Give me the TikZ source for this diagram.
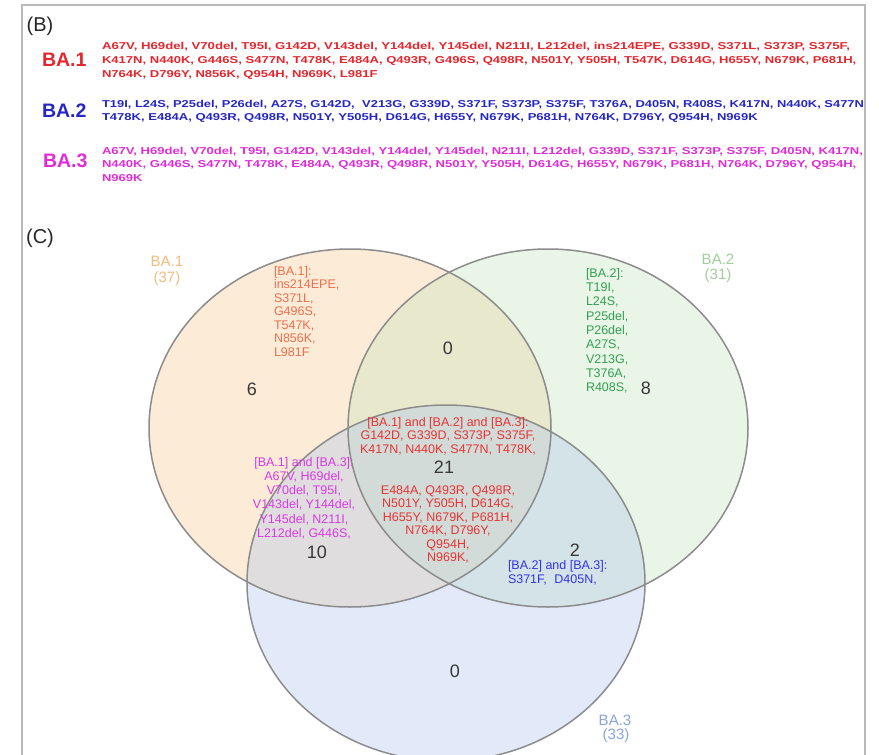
\documentclass[tikz,border=0pt]{standalone}
\usepackage{fontspec}
\setmainfont{Liberation Sans}
\definecolor{redB}{RGB}{228,38,45}
\definecolor{blueB}{RGB}{38,38,196}
\definecolor{magB}{RGB}{224,44,214}
\definecolor{lblO}{RGB}{243,188,128}
\definecolor{lblG}{RGB}{158,208,152}
\definecolor{lblB}{RGB}{138,164,220}
\definecolor{txtO}{RGB}{235,112,78}
\definecolor{txtG}{RGB}{52,158,84}
\definecolor{txtR}{RGB}{230,52,52}
\definecolor{txtM}{RGB}{214,58,226}
\definecolor{txtBl}{RGB}{52,52,226}
\definecolor{fillO}{RGB}{249,198,141}
\definecolor{fillG}{RGB}{192,229,186}
\definecolor{fillB}{RGB}{172,195,238}
\definecolor{edgec}{RGB}{140,140,140}
\definecolor{framec}{RGB}{185,185,185}
\definecolor{cntc}{RGB}{55,55,55}
\newcommand{\hs}[2][1.305]{\scalebox{#1}[1]{#2}}
\tikzset{
  every node/.style={inner sep=0pt, outer sep=0pt},
  bline/.style={anchor=base west, font=\fontsize{10}{12}\selectfont\bfseries},
  blabel/.style={anchor=base west, font=\fontsize{19.5}{22}\selectfont\bfseries},
  panel/.style={font=\fontsize{20}{22}\selectfont, text=black!85},
  vtxt/.style={font=\fontsize{12.5}{14}\selectfont},
  vlbl/.style={font=\fontsize{15}{17}\selectfont},
  cnt/.style={font=\fontsize{18}{20}\selectfont, text=cntc},
  ell/.style={draw=edgec, line width=1.5},
}
\begin{document}
\begin{tikzpicture}[x=1pt,y=-1pt]
\useasboundingbox (0,0) rectangle (879,755);
\fill[white] (0,0) rectangle (879,755);
\draw[framec, line width=1.6] (22,5) rectangle (865,775);

% ---------- panel B ----------
\node[panel] (pB) at (40,26) {(B)};
\node[blabel, text=redB] (lB1) at (42,66) {BA.1};
\node[blabel, text=blueB] (lB2) at (42,117) {BA.2};
\node[blabel, text=magB] (lB3) at (43,167) {BA.3};

\node[bline, text=redB] (b11) at (102,49.6) {\hs[1.318]{A67V, H69del, V70del, T95I, G142D, V143del, Y144del, Y145del, N211I, L212del, ins214EPE, G339D, S371L, S373P, S375F,}};
\node[bline, text=redB] (b12) at (102,63.6) {\hs{K417N, N440K, G446S, S477N, T478K, E484A, Q493R, G496S, Q498R, N501Y, Y505H, T547K, D614G, H655Y, N679K, P681H,}};
\node[bline, text=redB] (b13) at (102,77.6) {\hs{N764K, D796Y, N856K, Q954H, N969K, L981F}};

\node[bline, text=blueB] (b21) at (102,107.6) {\hs[1.292]{T19I, L24S, P25del, P26del, A27S, G142D,\hspace{3pt} V213G, G339D, S371F, S373P, S375F, T376A, D405N, R408S, K417N, N440K, S477N}};
\node[bline, text=blueB] (b22) at (102,120.6) {\hs{T478K, E484A, Q493R, Q498R, N501Y, Y505H, D614G, H655Y, N679K, P681H, N764K, D796Y, Q954H, N969K}};

\node[bline, text=magB] (b31) at (102,154.6) {\hs{A67V, H69del, V70del, T95I, G142D, V143del, Y144del, Y145del, N211I, L212del, G339D, S371F, S373P, S375F, D405N, K417N,}};
\node[bline, text=magB] (b32) at (102,167.6) {\hs{N440K, G446S, S477N, T478K, E484A, Q493R, Q498R, N501Y, Y505H, D614G, H655Y, N679K, P681H, N764K, D796Y, Q954H,}};
\node[bline, text=magB] (b33) at (102,181.6) {\hs{N969K}};

% ---------- panel C ----------
\node[panel] (pC) at (40,238) {(C)};

\fill[fillO, fill opacity=0.35] (350,428) ellipse [x radius=201, y radius=179];
\fill[fillG, fill opacity=0.35] (548,428) ellipse [x radius=200, y radius=179];
\fill[fillB, fill opacity=0.35] (446,583) ellipse [x radius=199, y radius=178];
\draw[ell] (350,428) ellipse [x radius=201, y radius=179];
\draw[ell] (548,428) ellipse [x radius=200, y radius=179];
\draw[ell] (446,583) ellipse [x radius=199, y radius=178];

\node[vlbl, text=lblO] (v1) at (167,261) {BA.1};
\node[vlbl, text=lblO] (v1n) at (167,279) {(37)};
\node[vlbl, text=lblG] (v2) at (718,259) {BA.2};
\node[vlbl, text=lblG] (v2n) at (718,276) {(31)};
\node[vlbl, text=lblB] (v3) at (615,720) {BA.3};
\node[vlbl, text=lblB] (v3n) at (616,736) {(33)};

% BA.1 only
\foreach \t [count=\i from 0] in {{[BA.1]:},{ins214EPE,},{S371L,},{G496S,},{T547K,},{N856K,},{L981F}}
  \node[vtxt, text=txtO, anchor=base west] (o\i) at (274,{275.3+\i*13.5}) {\t};
% BA.2 only
\foreach \t [count=\i from 0] in {{[BA.2]:},{T19I,},{L24S,},{P25del,},{P26del,},{A27S,},{V213G,},{T376A,},{R408S,}}
  \node[vtxt, text=txtG, anchor=base west] (g\i) at (586,{277.3+\i*14.3}) {\t};
% all three
\foreach \t [count=\i from 0] in {{[BA.1] and [BA.2] and [BA.3]:},{G142D, G339D, S373P, S375F,},{K417N, N440K, S477N, T478K,}}
  \node[vtxt, text=txtR, anchor=base] (r\i) at (448,{426.3+\i*13.5}) {\t};
\foreach \t [count=\i from 0] in {{E484A, Q493R, Q498R,},{N501Y, Y505H, D614G,},{H655Y, N679K, P681H,},{N764K, D796Y,},{Q954H,},{N969K,}}
  \node[vtxt, text=txtR, anchor=base] (s\i) at (448,{494.3+\i*13.5}) {\t};
% BA.1 and BA.3
\foreach \t [count=\i from 0] in {{[BA.1] and [BA.3]:},{A67V, H69del,},{V70del, T95I,},{V143del, Y144del,},{Y145del, N211I,},{L212del, G446S,}}
  \node[vtxt, text=txtM, anchor=base] (m\i) at (304,{466.3+\i*14.2}) {\t};
% BA.2 and BA.3
\node[vtxt, text=txtBl, anchor=base west] (u0) at (508,569.3) {[BA.2] and [BA.3]:};
\node[vtxt, text=txtBl, anchor=base west] (u1) at (508,583.3) {S371F,\hspace{4pt} D405N,};

% counts
\node[cnt] (c1) at (252,389) {6};
\node[cnt] (c12) at (448,348) {0};
\node[cnt] (c2) at (646,388) {8};
\node[cnt] (c123) at (444,467) {21};
\node[cnt] (c13) at (317,552) {10};
\node[cnt] (c23) at (575,550) {2};
\node[cnt] (c3) at (455,671) {0};
\end{tikzpicture}
\end{document}
